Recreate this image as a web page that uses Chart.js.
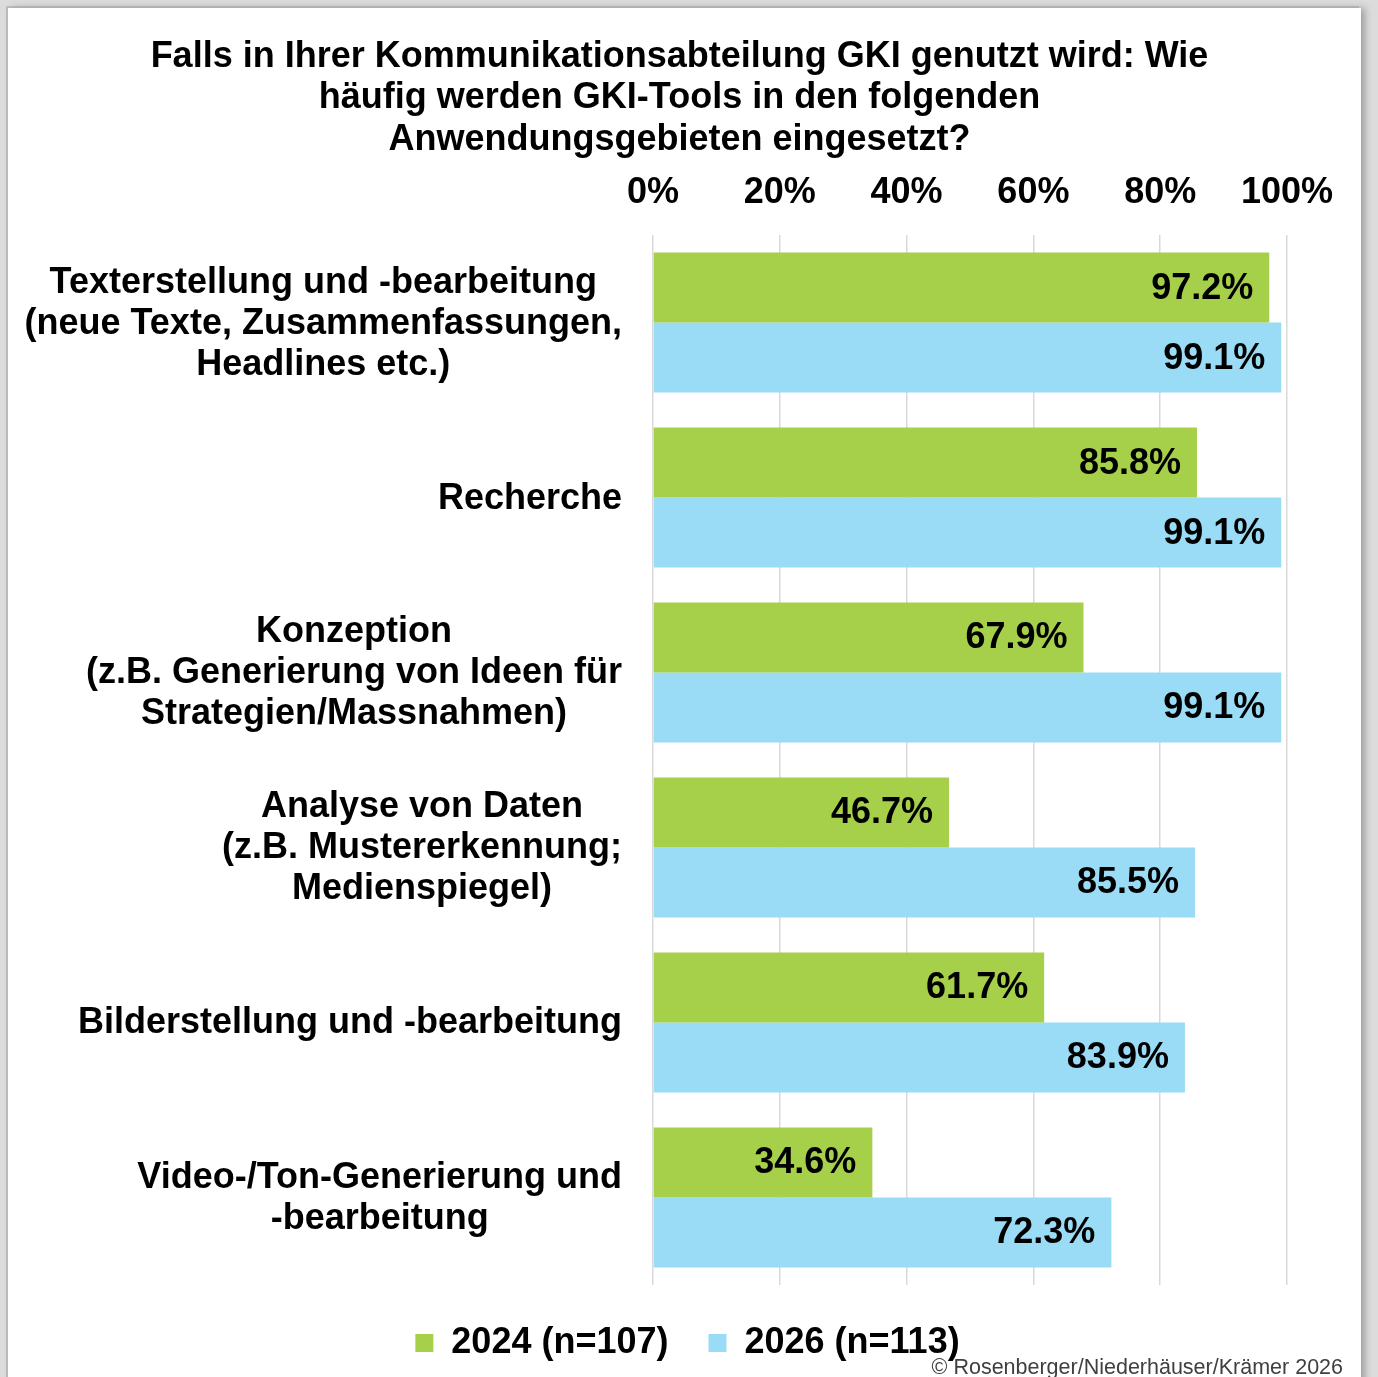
<!DOCTYPE html>
<html lang="de">
<head>
<meta charset="utf-8">
<title>GKI-Tools Anwendungsgebiete</title>
<script src="https://cdn.jsdelivr.net/npm/chart.js@4.4.1/dist/chart.umd.min.js"></script>
<style>
  html, body { margin: 0; padding: 0; }
  body { width: 1378px; height: 1377px; background: #dcdcdc; position: relative; overflow: hidden; }
  .panel { position: absolute; left: 8px; top: 8px; width: 1353px; height: 1390px; background: #fff;
           box-shadow: 4px 0 7px #a0a0a0, -2px -2px 0 #bdbdbd; }
  .wrap { position: absolute; left: 0; top: 0; width: 1378px; height: 1377px; }
</style>
</head>
<body>
<div class="panel"></div>
<div class="wrap"><canvas id="chart"></canvas></div>
<script>
  "use strict";

  // data
  const categories = [
    ["Texterstellung und -bearbeitung", "(neue Texte, Zusammenfassungen,", "Headlines etc.)"],
    "Recherche",
    ["Konzeption", "(z.B. Generierung von Ideen für", "Strategien/Massnahmen)"],
    ["Analyse von Daten", "(z.B. Mustererkennung;", "Medienspiegel)"],
    "Bilderstellung und -bearbeitung",
    ["Video-/Ton-Generierung und", "-bearbeitung"]
  ];
  const values2024 = [97.2, 85.8, 67.9, 46.7, 61.7, 34.6];
  const values2026 = [99.1, 99.1, 99.1, 85.5, 83.9, 72.3];
  const seriesNames = ["2024 (n=107)", "2026 (n=113)"];
  const xTicks = [0, 20, 40, 60, 80, 100];

  const FONT = '"Liberation Sans", Arial, Helvetica, sans-serif';
  const GREEN = "#a6d04a";
  const BLUE = "#9adcf5";

  // value labels inside the bar ends
  var barLabels = {
    id: "barLabels",
    afterDatasetsDraw: function (chart) {
      const ctx = chart.ctx;
      ctx.save();
      ctx.font = "bold 36px " + FONT;
      ctx.fillStyle = "#000";
      ctx.textAlign = "right";
      ctx.textBaseline = "middle";
      chart.data.datasets.forEach(function (ds, i) {
        chart.getDatasetMeta(i).data.forEach(function (bar, j) {
          ctx.fillText(ds.data[j].toFixed(1) + "%", bar.x - 16, bar.y + 1);
        });
      });
      ctx.restore();
    }
  };

  // category labels: block right aligned to the axis, lines centred inside the block
  var categoryLabels = {
    id: "categoryLabels",
    afterDraw: function (chart) {
      const ctx = chart.ctx;
      const y = chart.scales.y;
      const right = chart.chartArea.left - 31;
      const lineH = 41;
      ctx.save();
      ctx.font = "bold 36px " + FONT;
      ctx.fillStyle = "#000";
      ctx.textAlign = "center";
      ctx.textBaseline = "middle";
      chart.data.labels.forEach(function (lab, i) {
        const lines = Array.isArray(lab) ? lab : [lab];
        let w = 0;
        lines.forEach(function (l) { w = Math.max(w, ctx.measureText(l).width); });
        const cx = right - w / 2;
        const cy = y.getPixelForTick(i) + 1;
        lines.forEach(function (l, k) {
          ctx.fillText(l, cx, cy + (k - (lines.length - 1) / 2) * lineH);
        });
      });
      ctx.restore();
    }
  };

  // nudge the legend a bit to the right, as in the original
  var legendShift = {
    id: "legendShift",
    afterLayout: function (chart) {
      chart.legend.left += 8;
      chart.legend.right += 8;
    }
  };

  // copyright line bottom right
  var copyright = {
    id: "copyright",
    afterDraw: function (chart) {
      const ctx = chart.ctx;
      ctx.save();
      ctx.font = "21.5px " + FONT;
      ctx.fillStyle = "#404040";
      ctx.textAlign = "right";
      ctx.textBaseline = "middle";
      ctx.fillText("\u00A9 Rosenberger/Niederh\u00E4user/Kr\u00E4mer 2026", 1343, 1368);
      ctx.restore();
    }
  };

  new Chart(document.getElementById("chart"), {
    type: "bar",
    data: {
      labels: categories,
      datasets: [{
        label: seriesNames[0],
        data: values2024,
        backgroundColor: GREEN
      }, {
        label: seriesNames[1],
        data: values2026,
        backgroundColor: BLUE
      }]
    },
    options: {
      indexAxis: "y",
      responsive: true,
      maintainAspectRatio: false,
      animation: false,
      datasets: {
        bar: { categoryPercentage: 0.8, barPercentage: 1.0 }
      },
      layout: {
        padding: { top: 0, left: 72, right: 91, bottom: 6 }
      },
      scales: {
        x: {
          position: "top",
          min: 0,
          max: 100,
          afterBuildTicks: function (scale) {
            scale.ticks = xTicks.map(function (v) { return { value: v }; });
          },
          afterFit: function (scale) { scale.height = 65; },
          ticks: {
            callback: function (v) { return v + "%"; },
            font: { family: FONT, size: 36, weight: "bold" },
            color: "#000",
            padding: 20
          },
          grid: { color: "#d9d9d9", lineWidth: 1.5, drawTicks: false },
          border: { display: false }
        },
        y: {
          afterFit: function (scale) { scale.width = 653 - 72; },
          ticks: { display: false },
          grid: { display: false, drawTicks: false },
          border: { display: false }
        }
      },
      plugins: {
        title: {
          display: true,
          text: [
            "Falls in Ihrer Kommunikationsabteilung GKI genutzt wird: Wie",
            "häufig werden GKI-Tools in den folgenden",
            "Anwendungsgebieten eingesetzt?"
          ],
          font: { family: FONT, size: 36, weight: "bold", lineHeight: 1.14 },
          color: "#000",
          padding: { top: 37, bottom: 10 }
        },
        legend: {
          position: "bottom",
          labels: {
            font: { family: FONT, size: 36, weight: "bold" },
            color: "#000",
            boxWidth: 18,
            boxHeight: 18,
            padding: 40
          }
        },
        tooltip: { enabled: false }
      }
    },
    plugins: [barLabels, categoryLabels, legendShift, copyright]
  });
</script>
</body>
</html>
